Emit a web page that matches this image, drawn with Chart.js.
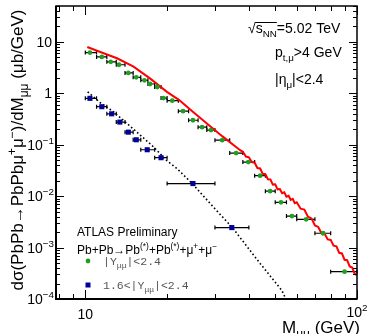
<!DOCTYPE html>
<html>
<head>
<meta charset="utf-8">
<script src="https://cdn.jsdelivr.net/npm/chart.js@4"></script>
<style>
body { margin: 0; background: #fff; }
#wrap { width: 367px; height: 334px; }
</style>
</head>
<body>
<div id="wrap"><canvas id="chart" width="367" height="334"></canvas></div>
<script>
// |Y_mumu| < 2.4 (green circles), bin edges give the horizontal bars
const allMass = [10.4, 11.5, 12.4, 13.3, 14.4, 15.4, 16.5, 17.3, 18.4, 19.4, 20.9, 22.9, 24.9, 26.9, 29.0, 31.9, 35.9, 39.8, 44, 47.9, 52.5, 57.6, 65, 75, 90];
const allLo = [10, 11, 12, 13, 14, 15, 16, 17, 18, 19, 20, 22, 24, 26, 28, 30, 34, 38, 42, 46, 50, 55, 60, 70, 80];
const allHi = [11, 12, 13, 14, 15, 16, 17, 18, 19, 20, 22, 24, 26, 28, 30, 34, 38, 42, 46, 50, 55, 60, 70, 80, 100];
const allXsec = [6.2, 5.1, 4.1, 3.6, 2.5, 2.05, 1.79, 1.52, 1.33, 0.81, 0.72, 0.45, 0.30, 0.22, 0.193, 0.123, 0.069, 0.046, 0.025, 0.0125, 0.0076, 0.0041, 0.00355, 0.0019, 0.00034];

// 1.6 < |Y_mumu| < 2.4 (blue squares)
const fwdMass = [10.4, 11.5, 12.5, 13.4, 14.4, 15.4, 16.9, 19.0, 24.9, 34.6];
const fwdLo = [10, 11, 12, 13, 14, 15, 16, 18, 20, 30];
const fwdHi = [11, 12, 13, 14, 15, 16, 18, 20, 30, 40];
const fwdXsec = [0.80, 0.55, 0.40, 0.276, 0.176, 0.125, 0.080, 0.056, 0.0176, 0.00245];

// red MC curve
const mcMass = [10.17, 11.35, 13.08, 15.05, 17.34, 19.97, 22.16, 24.32, 28.02, 31.9, 37.15,
  38, 39, 40, 41, 42, 43, 44, 45, 46, 47, 48, 49, 50, 51, 52, 53, 54, 55, 56, 57, 58, 59, 60,
  62, 64, 66, 68, 70, 72, 74, 76, 78, 80, 82, 84, 86, 88, 90, 92, 94, 96, 98, 100, 101];
const mcXsec = [7.99, 6.38, 4.81, 3.30, 1.93, 1.07, 0.740, 0.483, 0.258, 0.147, 0.0785,
  0.073, 0.059, 0.057, 0.046, 0.0448, 0.0352, 0.0345, 0.0272, 0.0268, 0.0213, 0.0212, 0.0168, 0.0170, 0.0136, 0.0138, 0.0114, 0.0119, 0.0098, 0.0102, 0.0085, 0.0089, 0.0073, 0.0076,
  0.0057, 0.0055, 0.0040, 0.0037, 0.0027, 0.00252, 0.00190, 0.00186, 0.00144, 0.00141, 0.00109, 0.00106, 0.00079, 0.00077, 0.00058, 0.00057, 0.00043, 0.00041, 0.00031, 0.00029, 0.00024];

// black dotted curve
const fitMass = [10.2, 11.35, 12.7, 14.23, 15.93, 17.83, 19.86, 21.74, 24.9, 29.55, 34.7, 37.15, 44, 52.9, 55.3];
const fitXsec = [1.07, 0.656, 0.438, 0.26, 0.154, 0.091, 0.050, 0.0345, 0.017, 0.0062, 0.00248, 0.00156, 0.00049, 0.000147, 0.000088];

// axis labels
const yExponents = [-4, -3, -2, -1, 0, 1];
const xLabelValues = [10, 100];

const SANS = '"Liberation Sans", Arial, sans-serif';
const MONO = '"Liberation Mono", "DejaVu Sans Mono", monospace';

function pts(xs, ys) {
  return xs.map((x, i) => ({ x: x, y: ys[i] }));
}

// text with sub/superscripts: parts = [[text, ''|'sub'|'sup'], ...]
function rich(ctx, parts, x, y, size, align, fam) {
  fam = fam || SANS;
  const small = size * 0.7;
  let w = 0;
  const ws = parts.map(([t, k]) => {
    ctx.font = (k ? small : size) + 'px ' + fam;
    const m = ctx.measureText(t).width;
    w += m;
    return m;
  });
  let cx = align === 'right' ? x - w : align === 'center' ? x - w / 2 : x;
  const starts = [];
  parts.forEach(([t, k], i) => {
    ctx.font = (k ? small : size) + 'px ' + fam;
    const dy = k === 'sup' ? -size * 0.42 : k === 'sub' ? size * 0.3 : 0;
    starts.push(cx);
    ctx.fillText(t, cx, y + dy);
    cx += ws[i];
  });
  return { starts: starts, widths: ws };
}

const errorBars = {
  id: 'errorBars',
  beforeDatasetsDraw(chart) {
    const ctx = chart.ctx;
    const xs = chart.scales.x, ys = chart.scales.y;
    ctx.save();
    ctx.strokeStyle = '#000';
    ctx.lineWidth = 1.2;
    const draw = (mass, lo, hi, val) => {
      mass.forEach((m, i) => {
        const y = ys.getPixelForValue(val[i]);
        const x0 = xs.getPixelForValue(lo[i]);
        const x1 = Math.min(xs.getPixelForValue(hi[i]), chart.chartArea.right);
        ctx.beginPath();
        ctx.moveTo(x0, y); ctx.lineTo(x1, y);
        ctx.moveTo(x0, y - 2); ctx.lineTo(x0, y + 2);
        ctx.moveTo(x1, y - 2); ctx.lineTo(x1, y + 2);
        ctx.stroke();
      });
    };
    draw(allMass, allLo, allHi, allXsec);
    draw(fwdMass, fwdLo, fwdHi, fwdXsec);
    ctx.restore();
  }
};

const frame = {
  id: 'frame',
  afterDraw(chart) {
    const ctx = chart.ctx;
    const a = chart.chartArea;
    const xs = chart.scales.x, ys = chart.scales.y;
    ctx.save();
    ctx.strokeStyle = '#000';
    ctx.fillStyle = '#000';

    // ticks
    ctx.lineWidth = 1;
    ctx.beginPath();
    for (let e = -4; e <= 1; e++) {
      for (let m = 1; m <= 9; m++) {
        const v = m * Math.pow(10, e);
        if (v < 1e-4 || v > 50) continue;
        const y = Math.round(ys.getPixelForValue(v)) + 0.5;
        const len = m === 1 ? 8 : 4;
        ctx.moveTo(a.left, y); ctx.lineTo(a.left + len, y);
        ctx.moveTo(a.right, y); ctx.lineTo(a.right - len, y);
      }
    }
    for (let e = 0; e <= 2; e++) {
      for (let m = 1; m <= 9; m++) {
        const v = m * Math.pow(10, e);
        if (v < 7.8 || v > 100) continue;
        const x = Math.round(xs.getPixelForValue(v)) + 0.5;
        const len = m === 1 ? 9 : 5;
        ctx.moveTo(x, a.bottom); ctx.lineTo(x, a.bottom - len);
        ctx.moveTo(x, a.top); ctx.lineTo(x, a.top + len);
      }
    }
    ctx.stroke();

    // frame
    ctx.lineWidth = 1.5;
    ctx.strokeRect(a.left, a.top, a.right - a.left, a.bottom - a.top);
    ctx.lineWidth = 2;
    ctx.beginPath();
    ctx.moveTo(a.left, a.top); ctx.lineTo(a.left, a.bottom); ctx.lineTo(a.right, a.bottom);
    ctx.stroke();

    ctx.textAlign = 'left';
    ctx.textBaseline = 'alphabetic';

    // y tick labels
    yExponents.forEach(e => {
      const y = ys.getPixelForValue(Math.pow(10, e)) + 5;
      if (e === 0) rich(ctx, [['1', '']], 52, y, 14, 'right');
      else if (e === 1) rich(ctx, [['10', '']], 52, y, 14, 'right');
      else rich(ctx, [['10', ''], ['\u2212' + (-e), 'sup']], 54, y, 14, 'right');
    });

    // x tick labels
    xLabelValues.forEach(v => {
      const x = xs.getPixelForValue(v);
      if (v === 10) rich(ctx, [['10', '']], x, 319, 14, 'center');
      else rich(ctx, [['10', ''], ['2', 'sup']], x, 316.5, 14, 'center');
    });

    // axis titles
    rich(ctx, [['M', ''], ['\u03bc\u03bc', 'sub'], [' (GeV)', '']], 360, 333, 17, 'right');
    ctx.save();
    ctx.translate(17, 150);
    ctx.rotate(-Math.PI / 2);
    rich(ctx, [['d\u03c3(PbPb\u2192PbPb\u03bc', ''], ['+', 'sup'], ['\u03bc', ''], ['\u2212', 'sup'],
      [')/dM', ''], ['\u03bc\u03bc', 'sub'], [' (\u03bcb/GeV)', '']], 0, 6, 17, 'center');
    ctx.restore();

    // top-right labels
    const r = rich(ctx, [['\u221a', ''], ['s', ''], ['NN', 'sub'], ['=5.02 TeV', '']], 248, 33, 14, 'left');
    ctx.lineWidth = 1;
    ctx.beginPath();
    ctx.moveTo(r.starts[1] - 0.5, 22.5);
    ctx.lineTo(r.starts[3], 22.5);
    ctx.stroke();
    rich(ctx, [['p', ''], ['t,\u03bc', 'sub'], ['>4 GeV', '']], 275, 57, 14, 'left');
    rich(ctx, [['|\u03b7', ''], ['\u03bc', 'sub'], ['|<2.4', '']], 275, 84, 14, 'left');

    // legend block
    rich(ctx, [['ATLAS Preliminary', '']], 77, 236, 12, 'left');
    rich(ctx, [['Pb+Pb\u2192Pb', ''], ['(*)', 'sup'], ['+Pb', ''], ['(*)', 'sup'], ['+\u03bc', ''], ['+', 'sup'],
      ['+\u03bc', ''], ['\u2212', 'sup']], 77, 254, 12, 'left');

    const green = chart.data.datasets[2].backgroundColor;
    const blue = chart.data.datasets[3].backgroundColor;
    ctx.fillStyle = green;
    ctx.beginPath();
    ctx.arc(88, 261, 2.4, 0, Math.PI * 2);
    ctx.fill();
    ctx.fillStyle = blue;
    ctx.fillRect(85.5, 282.5, 5, 5);

    ctx.fillStyle = '#555';
    rich(ctx, [['|Y', ''], ['\u03bc\u03bc', 'sub'], ['|<2.4', '']], 103, 265, 11.5, 'left', MONO);
    rich(ctx, [['1.6<|Y', ''], ['\u03bc\u03bc', 'sub'], ['|<2.4', '']], 103, 289, 11.5, 'left', MONO);
    ctx.restore();
  }
};

new Chart(document.getElementById('chart'), {
  type: 'line',
  data: {
    datasets: [
      {
        label: 'MC',
        data: pts(mcMass, mcXsec),
        borderColor: '#ff0000',
        borderWidth: 2,
        pointRadius: 0,
        tension: 0,
        clip: 0,
        order: 3
      },
      {
        label: 'fit',
        data: pts(fitMass, fitXsec),
        borderColor: '#000',
        borderWidth: 1.6,
        borderDash: [1.6, 2.4],
        pointRadius: 0,
        tension: 0,
        clip: 0,
        order: 4
      },
      {
        label: '|Y| < 2.4',
        data: pts(allMass, allXsec),
        showLine: false,
        pointStyle: 'circle',
        pointRadius: 2.4,
        pointBorderWidth: 0,
        backgroundColor: '#1f9f1f',
        borderColor: '#1f9f1f',
        order: 1
      },
      {
        label: '1.6 < |Y| < 2.4',
        data: pts(fwdMass, fwdXsec),
        showLine: false,
        pointStyle: 'rect',
        pointRadius: 3.6,
        pointBorderWidth: 0,
        backgroundColor: '#000099',
        borderColor: '#000099',
        order: 2
      }
    ]
  },
  options: {
    responsive: false,
    animation: false,
    events: [],
    layout: { padding: { left: 56, right: 10, top: 6, bottom: 35 } },
    scales: {
      x: { type: 'logarithmic', min: 7.8, max: 100, display: false },
      y: { type: 'logarithmic', min: 1e-4, max: 50, display: false }
    },
    plugins: {
      legend: { display: false },
      tooltip: { enabled: false }
    }
  },
  plugins: [errorBars, frame]
});
</script>
</body>
</html>
